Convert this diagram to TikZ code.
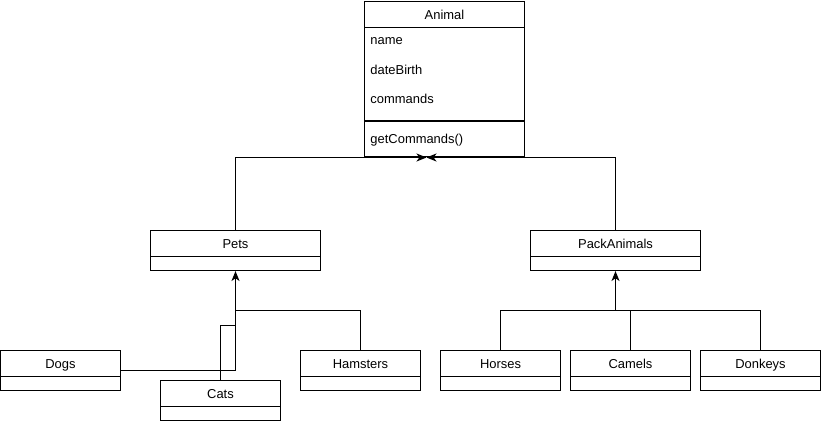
\documentclass[tikz,border=0pt]{standalone}
\usepackage{fontspec}
\setmainfont{Liberation Sans}
\usetikzlibrary{arrows.meta}

\tikzset{
  classbox/.style={draw, minimum width=3cm, minimum height=1cm, inner sep=0pt,
    label={[namepart]north:#1},
    path picture={\draw ([yshift=-0.65cm]path picture bounding box.north west) -- ([yshift=-0.65cm]path picture bounding box.north east);}},
  namepart/.style={anchor=north, minimum height=0.65cm, inner sep=0pt, text height=0.716em, text depth=0pt},
  member/.style={anchor=west, inner sep=0pt, text height=0.716em, text depth=0pt},
  inherit/.style={-{Stealth[length=2.5mm, width=2mm, inset=0.7mm]}},
}

\begin{document}
\begin{tikzpicture}[x=0.025cm, y=-0.025cm, line width=0.75pt, font=\fontsize{9.2}{11}\selectfont]
            \useasboundingbox (-0.5,-0.5) rectangle (820.5,420.5);
            % Animal class
            \node[classbox=Animal, minimum width=4cm, minimum height=3.875cm] (animal) at (444,78.5) {};
            \draw ([yshift=-3cm]animal.north west) -- ([yshift=-3cm]animal.north east);
            \node[member] (name) at ([xshift=0.15cm, yshift=-0.96cm]animal.north west) {name};
            \node[member] (datebirth) at ([xshift=0.15cm, yshift=-1.71cm]animal.north west) {dateBirth};
            \node[member] (commands) at ([xshift=0.15cm, yshift=-2.44cm]animal.north west) {commands};
            \node[member] (getcommands) at ([xshift=0.15cm, yshift=-3.44cm]animal.north west) {getCommands()};
            % Pets and PackAnimals
            \node[classbox=Pets, minimum width=4.25cm] (pets) at (235,250) {};
            \node[classbox=PackAnimals, minimum width=4.25cm] (pack) at (615,250) {};
            % Pets subclasses
            \node[classbox=Dogs] (dogs) at (60,370) {};
            \node[classbox=Cats] (cats) at (220,400) {};
            \node[classbox=Hamsters] (hamsters) at (360,370) {};
            % PackAnimals subclasses
            \node[classbox=Horses] (horses) at (500,370) {};
            \node[classbox=Camels] (camels) at (630,370) {};
            \node[classbox=Donkeys] (donkeys) at (760,370) {};
            % Junctions
            \coordinate (animaltip) at (426,157);
            \coordinate (catsjoin) at (235,325);
            \coordinate (hamstersjoin) at (235,310);
            \coordinate (packjoin) at (615,310);
            % Arrows to Animal
            \draw[inherit] (pets.north) |- (animaltip);
            \draw[inherit] (pack.north) |- (animaltip);
            % Arrows to Pets
            \draw[inherit] (dogs.east) -| (pets.south);
            \draw (cats.north) |- (catsjoin);
            \draw (hamsters.north) |- (hamstersjoin);
            % Arrows to PackAnimals
            \draw[inherit] (packjoin) -- (pack.south);
            \draw (horses.north) |- (packjoin);
            \draw (camels.north) |- (packjoin);
            \draw (donkeys.north) |- (packjoin);
        \end{tikzpicture}
\end{document}
